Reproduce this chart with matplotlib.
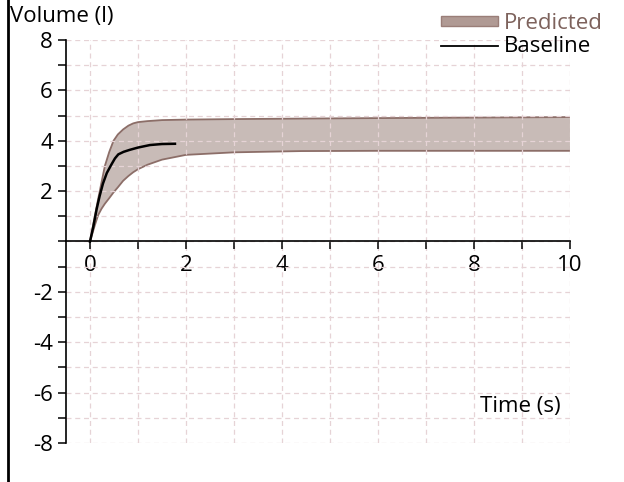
import numpy as np
import matplotlib.pyplot as plt
from matplotlib.patches import Patch
from matplotlib.lines import Line2D
from matplotlib.ticker import MultipleLocator

plt.rcParams['font.family'] = ['Open Sans', 'DejaVu Sans']

# Predicted band (time in s, volume in l)
t_band = [0, 0.05, 0.1, 0.17, 0.24, 0.31, 0.4, 0.49, 0.58, 0.69, 0.8, 0.9, 1.0,
          1.2, 1.5, 2.0, 3.0, 4.4, 6.0, 8.0, 10.0]
upper = [0, 0.5, 1.0, 1.69, 2.35, 3.0, 3.55, 4.0, 4.25, 4.45, 4.6, 4.69, 4.74,
         4.78, 4.82, 4.84, 4.86, 4.88, 4.9, 4.92, 4.94]
lower = [0, 0.32, 0.64, 1.05, 1.3, 1.5, 1.72, 1.95, 2.15, 2.41, 2.6, 2.75, 2.87,
         3.05, 3.25, 3.44, 3.54, 3.59, 3.6, 3.6, 3.6]

# Baseline measurement
t_base = [0, 0.07, 0.14, 0.2, 0.27, 0.35, 0.45, 0.52, 0.59, 0.7, 0.83, 1.0, 1.25, 1.5, 1.77]
base = [0, 0.6, 1.3, 1.8, 2.3, 2.72, 3.07, 3.3, 3.46, 3.56, 3.64, 3.73, 3.83, 3.87, 3.88]

x_labels = [0, 2, 4, 6, 8, 10]
y_labels = [-8, -6, -4, -2, 2, 4, 6, 8]

fig = plt.figure(figsize=(6.24, 4.82), dpi=100)
ax = fig.add_axes([66 / 624, 39 / 482, 504 / 624, 403 / 482])

ax.fill_between(t_band, lower, upper, facecolor='#c8bbb7', edgecolor='none', zorder=1)
ax.plot(t_band, upper, color='#8c6e68', linewidth=1.3, zorder=1.2)
ax.plot(t_band, lower, color='#8c6e68', linewidth=1.3, zorder=1.2)
ax.plot(t_base, base, color='black', linewidth=1.8, zorder=3)

ax.set_xlim(-0.5, 10)
ax.set_ylim(-8, 8)

ax.spines['top'].set_visible(False)
ax.spines['right'].set_visible(False)
ax.spines['bottom'].set_position(('data', 0))
ax.spines['left'].set_linewidth(1.2)
ax.spines['bottom'].set_linewidth(1.2)

ax.set_xticks(x_labels)
ax.set_xticklabels([str(v) for v in x_labels])
ax.xaxis.set_minor_locator(MultipleLocator(1))
ax.set_yticks(y_labels)
ax.set_yticklabels([str(v) for v in y_labels])
ax.yaxis.set_minor_locator(MultipleLocator(1))
ax.tick_params(which='both', direction='out', length=6, width=1.1, labelsize=16)
ax.tick_params(axis='x', pad=4)

# grid sits above the band (axis zorder 1.5), below the spines
ax.set_axisbelow('line')
ax.grid(which='both', color='#e6d3d6', linestyle=(0, (4, 3)), linewidth=0.9)

fig.text(10 / 624, 1 - 6 / 482, 'Volume (l)', fontsize=16, va='top', ha='left')
ax.text(9.8, -6.55, 'Time (s)', fontsize=16, ha='right', va='center')

handles = [Patch(facecolor='#b09a94', edgecolor='#9a7e78'),
           Line2D([0], [0], color='black', linewidth=1.3)]
leg = ax.legend(handles, ['Predicted', 'Baseline'], loc='upper right',
                bbox_to_anchor=(614 / 624, 1 - 2 / 482), bbox_transform=fig.transFigure,
                frameon=False, borderpad=0, labelspacing=0.1, handletextpad=0.25,
                handlelength=2.6, handleheight=0.3, fontsize=16)
leg.get_texts()[0].set_color('#7d625c')

# outer frame edge visible in the reference
fig.add_artist(Line2D([8 / 624, 8 / 624], [0, 1], color='black', linewidth=2,
                      transform=fig.transFigure))

fig.savefig('out.png', dpi=100)
